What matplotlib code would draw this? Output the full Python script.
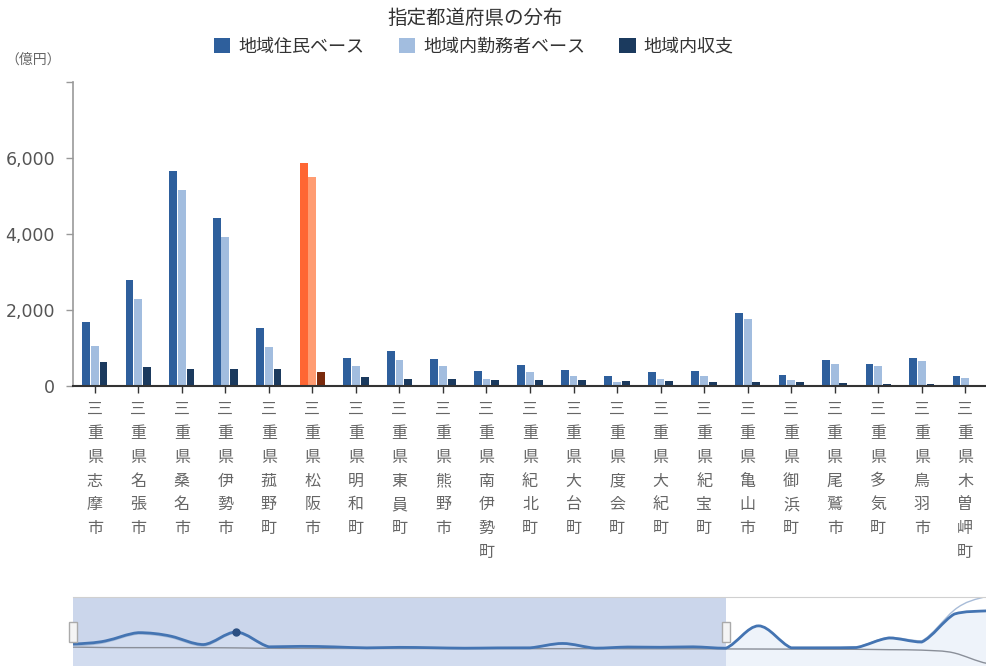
import numpy as np
import matplotlib.pyplot as plt
import matplotlib.transforms as mtransforms
from matplotlib.patches import Rectangle, PathPatch
from matplotlib.path import Path

plt.rcParams['font.family'] = ['Noto Sans CJK JP', 'DejaVu Sans']

title = '指定都道府県の分布'
series_names = ['地域住民ベース', '地域内勤務者ベース', '地域内収支']
cities = ['三重県志摩市', '三重県名張市', '三重県桑名市', '三重県伊勢市', '三重県菰野町',
          '三重県松阪市', '三重県明和町', '三重県東員町', '三重県熊野市', '三重県南伊勢町',
          '三重県紀北町', '三重県大台町', '三重県度会町', '三重県大紀町', '三重県紀宝町',
          '三重県亀山市', '三重県御浜町', '三重県尾鷲市', '三重県多気町', '三重県鳥羽市',
          '三重県木曽岬町']
highlight = '三重県松阪市'

# 億円
resident = [1690, 2800, 5650, 4430, 1530, 5880, 745, 910, 720, 385, 560,
            430, 270, 370, 395, 1910, 290, 675, 590, 745, 265]
worker = [1040, 2290, 5160, 3930, 1030, 5490, 520, 675, 525, 185, 375,
          255, 95, 195, 255, 1760, 160, 585, 525, 665, 220]
balance = [640, 490, 455, 455, 440, 370, 230, 195, 175, 165, 150,
           150, 140, 140, 105, 105, 105, 70, 55, 45, 10]

# categories beyond the zoom window, only seen in the slider overview (estimates)
resident_rest = [8000, 400, 400, 500, 3800, 2400, 12100, 13200]
worker_rest = [8020, 450, 480, 620, 4050, 2800, 13500, 18200]
balance_rest = [-20, -50, -80, -120, -250, -400, -1400, -5000]

yticks = [0, 2000, 4000, 6000, 8000]
ytick_labels = ['0', '2,000', '4,000', '6,000', '']

colors = ['#2e5f9c', '#a2bddf', '#1b3a5e']
hl_colors = ['#ff6633', '#ff9c72', '#7a2a0c']


def smooth_path(xs, ys, s=0.2):
    # bezier through the points, control points kept between neighbours
    verts = [(xs[0], ys[0])]
    codes = [Path.MOVETO]
    n = len(xs)
    for i in range(n - 1):
        i0, i3 = max(i - 1, 0), min(i + 2, n - 1)
        lo, hi = min(ys[i], ys[i + 1]), max(ys[i], ys[i + 1])
        c1y = np.clip(ys[i] + (ys[i + 1] - ys[i0]) * s, lo, hi)
        c2y = np.clip(ys[i + 1] - (ys[i3] - ys[i]) * s, lo, hi)
        c1x = xs[i] + (xs[i + 1] - xs[i]) / 3
        c2x = xs[i + 1] - (xs[i + 1] - xs[i]) / 3
        verts += [(c1x, c1y), (c2x, c2y), (xs[i + 1], ys[i + 1])]
        codes += [Path.CURVE4] * 3
    return verts, codes


fig = plt.figure(figsize=(9.87, 6.66), dpi=100)
ax = fig.add_axes([73/987, 1-386/666, 914/987, 304/666])

x = np.arange(len(cities))
offsets = [-0.2, 0, 0.2]
for j, vals in enumerate([resident, worker, balance]):
    cols = [hl_colors[j] if c == highlight else colors[j] for c in cities]
    ax.bar(x + offsets[j], vals, width=0.18, color=cols, label=series_names[j], zorder=2)

ax.set_xlim(-0.5, len(cities) - 0.5)
ax.set_ylim(0, 8000)
ax.set_yticks(yticks)
ax.set_yticklabels(ytick_labels, fontfamily='DejaVu Sans')
ax.set_xticks(x)
ax.set_xticklabels(['\n'.join(c) for c in cities], fontsize=11.5, color='#666',
                   linespacing=1.52, va='top')
ax.tick_params(axis='y', colors='#999', labelcolor='#555', length=5, width=1,
               pad=8, labelsize=12.5)
ax.tick_params(axis='x', colors='#333', labelcolor='#666', length=5, width=1, pad=6)
for side in ['top', 'right']:
    ax.spines[side].set_visible(False)
ax.spines['left'].set_color('#999')
ax.spines['left'].set_linewidth(1.2)
ax.spines['bottom'].set_color('#333')
ax.spines['bottom'].set_linewidth(1.5)

fig.text(475/987, 1-18/666, title, ha='center', va='center', fontsize=14, color='#333')
fig.text(33/987, 1-60/666, '（億円）', ha='center', va='center', fontsize=10, color='#666')
fig.legend(loc='center', bbox_to_anchor=(474/987, 1-47/666), ncol=3, frameon=False,
           fontsize=13, handlelength=0.9, handleheight=0.9, handletextpad=0.45,
           columnspacing=1.9, labelcolor='#333')

# data zoom slider at the bottom
s1 = resident + resident_rest
s2 = worker + worker_rest
s3 = balance + balance_rest
xs = np.arange(len(s1))
sax = fig.add_axes([73/987, 0, 914/987, 69/666])
sax.set_xlim(0, len(s1) - 1)
ymin, ymax = -5900, 18000
sax.set_ylim(ymin, ymax)
sax.set_xticks([])
sax.set_yticks([])
for side in ['left', 'right', 'bottom']:
    sax.spines[side].set_visible(False)
sax.spines['top'].set_color('#d0d0d0')

sax.axvspan(0, len(cities) - 1, color='#cbd6eb', zorder=0.5, lw=0)

v1, c1 = smooth_path(xs, s1)
area = Path(v1 + [(xs[-1], ymin), (xs[0], ymin), v1[0]],
            c1 + [Path.LINETO, Path.LINETO, Path.CLOSEPOLY])
sax.add_patch(PathPatch(area, facecolor='#dbe5f4', edgecolor='none', alpha=0.45, zorder=1))

v3, c3 = smooth_path(xs, s3)
sax.add_patch(PathPatch(Path(v3, c3), facecolor='none', edgecolor='#8a8f99', lw=1, zorder=2))
v2, c2 = smooth_path(xs, s2)
sax.add_patch(PathPatch(Path(v2, c2), facecolor='none', edgecolor='#a8bcd8', lw=1, zorder=2))
sax.add_patch(PathPatch(Path(v1, c1), facecolor='none', edgecolor='#4474b2', lw=2, zorder=3))

hi = cities.index(highlight)
sax.plot(hi, s1[hi], 'o', color='#2b4f82', ms=5, zorder=4)

trans = mtransforms.blended_transform_factory(sax.transData, sax.transAxes)
for xi in [0, len(cities) - 1]:
    sax.add_patch(Rectangle((xi - 0.12, 0.35), 0.24, 0.29, transform=trans,
                            facecolor='#f4f4f4', edgecolor='#aaaaaa', lw=1,
                            zorder=5, clip_on=False))

fig.savefig('out.png', dpi=100)
